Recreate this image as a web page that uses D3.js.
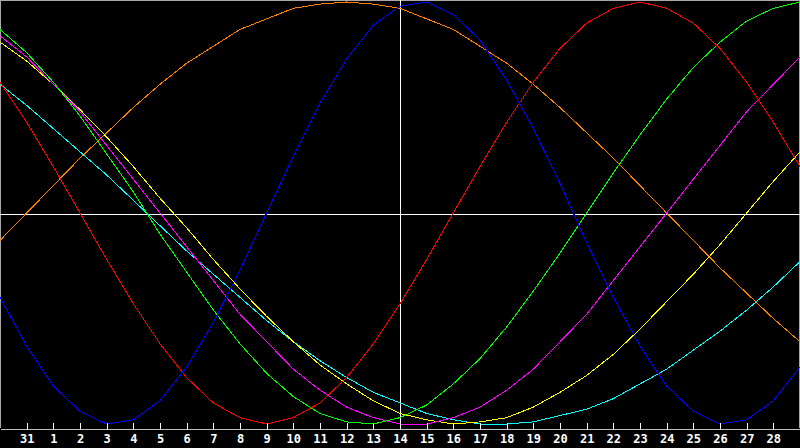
<!DOCTYPE html>
<html>
<head>
<meta charset="utf-8">
<script src="https://cdn.jsdelivr.net/npm/d3@7"></script>
<style>
  body { margin: 0; background: #000; overflow: hidden; }
  .axis text { font: bold 12px "DejaVu Sans Mono", monospace; fill: #fff; }
</style>
</head>
<body>
<div id="chart"></div>
<script>
// day labels for ticks 1..29 (index 0 and 30 are the chart edges)
const dayLabels = ["31", "1", "2", "3", "4", "5", "6", "7", "8", "9", "10", "11", "12", "13", "14",
  "15", "16", "17", "18", "19", "20", "21", "22", "23", "24", "25", "26", "27", "28"];

// cycle values (percent), one per day, index 0..30
const physical = [-40, -63, -82, -94, -100, -98, -89, -73, -52, -27, 0, 27, 52, 73, 89, 98,
  100, 94, 82, 63, 40, 14, -14, -40, -63, -82, -94, -100, -98, -89, -73];
const emotional = [62, 43, 22, 0, -22, -43, -62, -78, -90, -97, -100, -97, -90, -78, -62, -43,
  -22, 0, 22, 43, 62, 78, 90, 97, 100, 97, 90, 78, 62, 43, 22];
const intellectual = [87, 76, 62, 46, 28, 10, -10, -28, -46, -62, -76, -87, -95, -99, -100, -97,
  -91, -81, -69, -54, -37, -19, 0, 19, 37, 54, 69, 81, 91, 97, 100];
const intuitive = [84, 74, 61, 48, 32, 16, 0, -16, -32, -48, -61, -74, -84, -92, -97, -100,
  -100, -97, -92, -84, -74, -61, -48, -32, -16, 0, 16, 32, 48, 61, 74];
const aesthetic = [81, 72, 61, 49, 36, 22, 7, -7, -22, -36, -49, -61, -72, -81, -89, -95,
  -98, -100, -99, -97, -92, -85, -77, -67, -55, -42, -29, -15, 0, 15, 29];
const awareness = [-13, 0, 13, 26, 38, 50, 61, 71, 79, 87, 92, 97, 99, 100, 99, 97,
  92, 87, 79, 71, 61, 50, 38, 26, 13, 0, -13, -26, -38, -50, -61];
const spiritual = [61, 51, 40, 29, 18, 6, -6, -18, -29, -40, -51, -61, -70, -78, -85, -90,
  -95, -98, -100, -100, -99, -96, -93, -88, -81, -74, -65, -56, -46, -35, -23];

const series = [
  { values: awareness, color: "#ff8000" },
  { values: spiritual, color: "#00ffff" },
  { values: aesthetic, color: "#ffff00" },
  { values: intuitive, color: "#ff00ff" },
  { values: intellectual, color: "#00ff00" },
  { values: emotional, color: "#ff0000" },
  { values: physical, color: "#0000ff" }
];

const width = 800, height = 448, axisY = 428;

const svg = d3.select("#chart")
  .append("svg")
    .attr("width", width)
    .attr("height", height)
    .style("display", "block");

svg.append("rect")
  .attr("width", width).attr("height", height)
  .attr("fill", "#000");

const x = d3.scaleLinear().domain([0, 30]).range([0, 800]);
const y = d3.scaleLinear().domain([-100, 100]).range([424, 2]);

// frame
svg.append("path")
  .attr("d", `M0.5,${axisY}V0.5H799.5V${axisY}`)
  .attr("fill", "none")
  .attr("stroke", "#a8a8a8")
  .attr("shape-rendering", "crispEdges");

// centre lines
svg.append("line")
  .attr("x1", 0).attr("x2", width)
  .attr("y1", 214.5).attr("y2", 214.5)
  .attr("stroke", "#fff")
  .attr("shape-rendering", "crispEdges");

svg.append("line")
  .attr("x1", 400.5).attr("x2", 400.5)
  .attr("y1", 0).attr("y2", axisY)
  .attr("stroke", "#fff")
  .attr("shape-rendering", "crispEdges");

// curves
const line = d3.line()
  .x((d, i) => x(i))
  .y(d => y(d));

svg.selectAll("path.cycle")
  .data(series)
  .join("path")
    .attr("class", "cycle")
    .attr("d", d => line(d.values))
    .attr("fill", "none")
    .attr("stroke", d => d.color)
    .attr("stroke-width", 1)
    .attr("shape-rendering", "crispEdges");

// bottom axis
const axis = d3.axisBottom(x)
  .tickValues(d3.range(1, 30))
  .tickFormat(i => dayLabels[i - 1])
  .tickSizeInner(-6)
  .tickSizeOuter(0)
  .tickPadding(6);

const g = svg.append("g")
  .attr("class", "axis")
  .attr("transform", `translate(0,${axisY + 0.5})`)
  .call(axis);

g.select(".domain").attr("stroke", "#c0c0c0").attr("shape-rendering", "crispEdges");
g.selectAll(".tick line").attr("stroke", "#fff").attr("shape-rendering", "crispEdges");
</script>
</body>
</html>
